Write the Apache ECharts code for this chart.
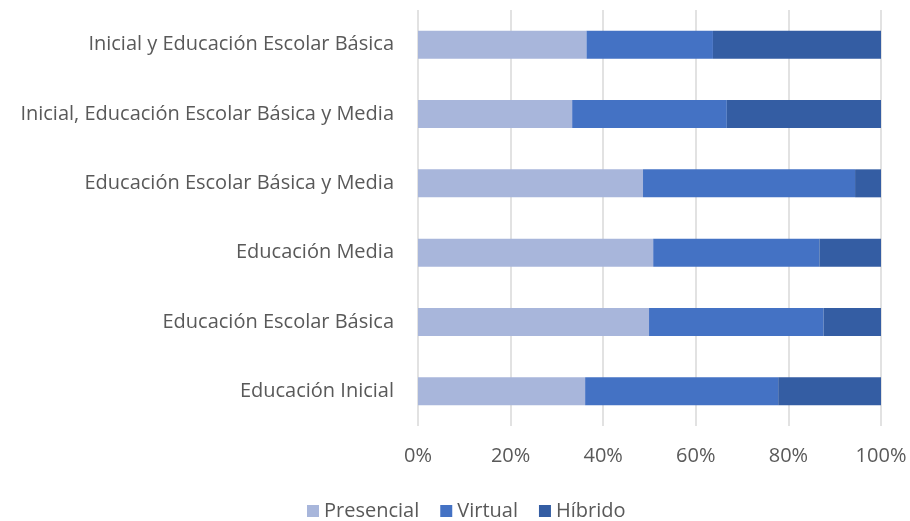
<!DOCTYPE html>
<html>
<head>
<meta charset="utf-8">
<script src="https://cdn.jsdelivr.net/npm/echarts@6/dist/echarts.min.js"></script>
<style>html,body{margin:0;padding:0;background:#fff;}#c{width:910px;height:521px;}</style>
</head>
<body>
<div id="c"></div>
<script>
const categories = [
  'Educación Inicial',
  'Educación Escolar Básica',
  'Educación Media',
  'Educación Escolar Básica y Media',
  'Inicial, Educación Escolar Básica y Media',
  'Inicial y Educación Escolar Básica'
];
const presencial = [36.1, 49.9, 50.8, 48.6, 33.3, 36.4];
const virtual    = [41.7, 37.7, 35.9, 45.8, 33.4, 27.3];
const hibrido    = [22.2, 12.4, 13.3, 5.6, 33.3, 36.3];
const xTicks = [0, 20, 40, 60, 80, 100];

const font = 'Open Sans';
const chart = echarts.init(document.getElementById('c'), null, {renderer: 'canvas'});
const mk = (name, data, color) => ({
  name, type: 'bar', stack: 'total', data,
  barWidth: 28,
  itemStyle: {color},
  emphasis: {disabled: true}
});
chart.setOption({
  animation: false,
  grid: {left: 418, right: 29, top: 10, bottom: 95, containLabel: false},
  legend: {
    top: 496, left: 302,
    itemWidth: 12, itemHeight: 12, itemGap: 21,
    icon: 'rect',
    textStyle: {fontFamily: font, fontSize: 20, color: '#595959'},
    data: ['Presencial', 'Virtual', 'Híbrido']
  },
  xAxis: {
    type: 'value', min: 0, max: 100, interval: 20,
    axisLine: {show: false}, axisTick: {show: false},
    splitLine: {lineStyle: {color: '#D9D9D9', width: 1.5}},
    axisLabel: {
      fontFamily: font, fontSize: 20, color: '#595959', margin: 20,
      formatter: v => xTicks.includes(v) ? v + '%' : ''
    }
  },
  yAxis: {
    type: 'category', data: categories,
    axisLine: {show: false}, axisTick: {show: false},
    axisLabel: {fontFamily: font, fontSize: 20, color: '#595959', margin: 24}
  },
  series: [
    mk('Presencial', presencial, '#A8B6DB'),
    mk('Virtual', virtual, '#4472C4'),
    mk('Híbrido', hibrido, '#345DA3')
  ]
});
</script>
</body>
</html>
